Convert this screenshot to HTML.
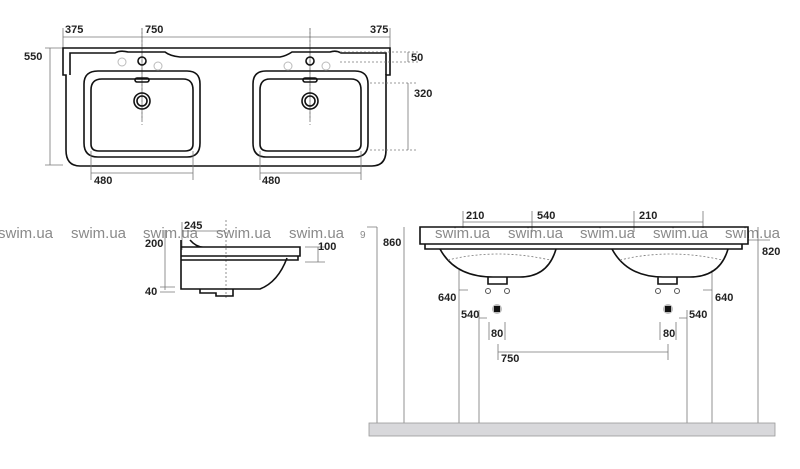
<!DOCTYPE html>
<html><head><meta charset="utf-8"><style>
html,body{margin:0;padding:0;background:#fff;width:800px;height:469px;overflow:hidden}
svg{display:block}
.t{font-family:"Liberation Sans",sans-serif;font-size:11px;font-weight:bold;fill:#222}
.w{font-family:"Liberation Sans",sans-serif;font-size:15px;fill:#8a8a8a}
.k{stroke:#111;stroke-width:1.6;fill:none}
.g{stroke:#777;stroke-width:0.8;fill:none}
.d{stroke:#777;stroke-width:0.8;fill:none;stroke-dasharray:2,2}
</style></head><body>
<svg width="800" height="469" viewBox="0 0 800 469">
<!-- TOP VIEW -->
<path class="g" d="M63 28V48M142 28V120M310 28V120M390 28V48M63 37H390"/>
<path class="d" d="M142 28V125M310 28V125"/>
<text class="t" x="65" y="33">375</text><text class="t" x="145" y="33">750</text><text class="t" x="370" y="33">375</text>
<path class="g" d="M45 48H63M45 165H63M50 48V165"/>
<text class="t" x="24" y="60">550</text>
<path class="k" d="M63 48H390V75H386V150Q386 166 372 166H80Q66 166 66 150V75H63Z"/>
<path class="k" d="M70 75V53H115Q120 50 128 52H165Q170 56 180 57H280Q286 56 292 52H330Q336 50 341 53H386V75"/>
<g class="k" stroke-width="1.2">
<path d="M84 84Q84 71 98 71H187Q200 71 200 84V143Q200 157 187 157H98Q84 157 84 143Z"/>
<path d="M91 90Q91 79 102 79H183Q193 79 193 90V144Q193 151 185 151H99Q91 151 91 144Z"/>
<path d="M253 84Q253 71 266 71H355Q368 71 368 84V143Q368 157 355 157H266Q253 157 253 143Z"/>
<path d="M260 90Q260 79 270 79H351Q361 79 361 90V144Q361 151 353 151H268Q260 151 260 144Z"/>
<circle cx="142" cy="101" r="8"/><circle cx="142" cy="101" r="5"/>
<circle cx="310" cy="101" r="8"/><circle cx="310" cy="101" r="5"/>
<rect x="135" y="78" width="14" height="4" rx="2"/><rect x="303" y="78" width="14" height="4" rx="2"/>
<circle cx="142" cy="61" r="4"/><circle cx="310" cy="61" r="4"/>
</g>
<g stroke="#bbb" fill="none"><circle cx="122" cy="62" r="4"/><circle cx="158" cy="66" r="4"/><circle cx="288" cy="66" r="4"/><circle cx="326" cy="66" r="4"/></g>
<path class="g" d="M91 151V180M193 151V180M91 173H193M260 151V180M361 151V180M260 173H361"/>
<text class="t" x="94" y="184">480</text><text class="t" x="262" y="184">480</text>
<path class="d" d="M340 52H418M340 62H418M370 83H418M370 150H418"/>
<path class="g" d="M408 52V62M408 83V150"/>
<text class="t" x="411" y="61">50</text><text class="t" x="414" y="97">320</text>
<!-- watermarks -->
<g class="w"><text x="-2" y="238">swim.ua</text><text x="71" y="238">swim.ua</text><text x="143" y="238">swim.ua</text><text x="216" y="238">swim.ua</text><text x="289" y="238">swim.ua</text><text x="435" y="238">swim.ua</text><text x="508" y="238">swim.ua</text><text x="580" y="238">swim.ua</text><text x="653" y="238">swim.ua</text><text x="725" y="238">swim.ua</text><text x="360" y="238" style="font-size:10px">9</text></g>
<!-- SIDE VIEW -->
<path class="g" d="M182 222V250M165 230V290M160 287H175M160 292H175M305 247H325M305 262H325M318 247V262M182 231H225"/>
<path class="d" d="M226 220V300"/>
<text class="t" x="184" y="229">245</text><text class="t" x="145" y="247">200</text><text class="t" x="145" y="295">40</text><text class="t" x="318" y="250">100</text>
<path class="k" d="M181 240V289H260Q278 282 287 258M181 247H300V256H181M181 256H298V260H181M190 240Q196 247 203 247M200 289V293H216V296H233V289"/>
<!-- FRONT VIEW -->
<path class="g" d="M463 211V228M532 211V232M634 211V232M703 211V228M463 222H703"/>
<text class="t" x="466" y="219">210</text><text class="t" x="537" y="219">540</text><text class="t" x="639" y="219">210</text>
<path class="g" d="M377 227V423M404 227V423M459 270V423M479 310V423M687 310V423M712 270V423M758 227V423M367 227H377M748 240H770"/>
<text class="t" x="383" y="246">860</text><text class="t" x="762" y="255">820</text>
<path class="k" d="M420 227H748V244H420ZM425 244H742V249H425ZM420 227V236"/>
<path class="k" d="M440 249Q455 277 493 277H520Q548 277 556 249M612 249Q627 277 663 277H690Q720 277 728 249M488 277V284H507V277M658 277V284H677V277"/>
<path class="d" d="M448 260Q497 248 550 260M620 260Q670 248 722 260"/>
<g stroke="#555" fill="none"><circle cx="488" cy="291" r="2.5"/><circle cx="507" cy="291" r="2.5"/><circle cx="658" cy="291" r="2.5"/><circle cx="677" cy="291" r="2.5"/></g>
<circle cx="497" cy="309" r="5" fill="#bbb"/><rect x="494" y="306" width="6" height="6" fill="#111"/>
<circle cx="668" cy="309" r="5" fill="#bbb"/><rect x="665" y="306" width="6" height="6" fill="#111"/>
<path class="g" d="M459 290H468M479 318H487M687 318H679M712 290H703M489 322V340M505 322V340M660 322V340M676 322V340M498 344V360M668 344V360M498 352H668"/>
<text class="t" x="438" y="301">640</text><text class="t" x="715" y="301">640</text>
<text class="t" x="461" y="318">540</text><text class="t" x="689" y="318">540</text>
<text class="t" x="491" y="337">80</text><text class="t" x="663" y="337">80</text>
<text class="t" x="501" y="362">750</text>
<rect x="369" y="423" width="406" height="13" fill="#d8d8db" stroke="#999" stroke-width="0.8"/>
</svg>
</body></html>
